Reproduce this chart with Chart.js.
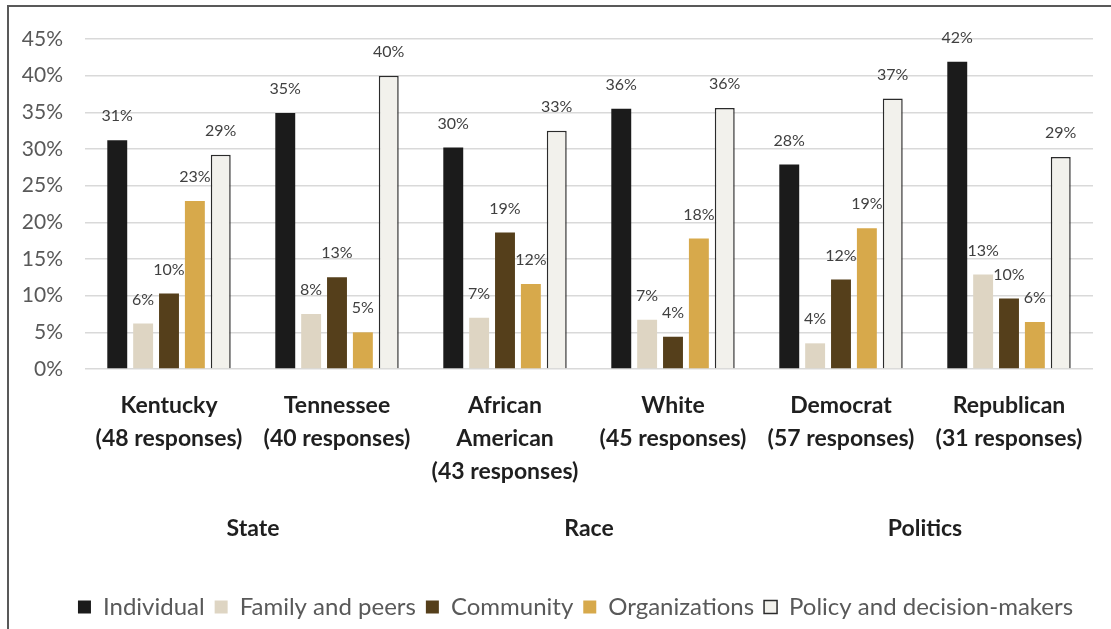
<!DOCTYPE html>
<html lang="en">
  <head>
    <meta charset="UTF-8" />
    <script src="https://cdn.jsdelivr.net/npm/chart.js@4.4.1/dist/chart.umd.min.js"></script>
    <title>Responses chart</title>
    <style>
      html, body { margin: 0; padding: 0; background: #fff; overflow: hidden; }
      #wrap { position: relative; width: 1111px; height: 629px; }
      #frame {
        position: absolute; left: 7px; top: 5px; width: 1200px; height: 700px;
        border: 2px solid #595959; pointer-events: none;
      }
    </style>
  </head>
  <body>
    <div id="wrap">
      <canvas id="myChart" width="1111" height="629"></canvas>
      <div id="frame"></div>
    </div>
    <script>
      const categories = [
        ["Kentucky", "(48 responses)"],
        ["Tennessee", "(40 responses)"],
        ["African", "American", "(43 responses)"],
        ["White", "(45 responses)"],
        ["Democrat", "(57 responses)"],
        ["Republican", "(31 responses)"],
      ];
      const groups = ["State", "Race", "Politics"];
      const individual = [31.2, 34.9, 30.2, 35.5, 27.9, 41.9];
      const familyPeers = [6.2, 7.5, 7.0, 6.7, 3.5, 12.9];
      const community = [10.3, 12.5, 18.6, 4.4, 12.2, 9.6];
      const organizations = [22.9, 5.0, 11.6, 17.8, 19.2, 6.4];
      const policyMakers = [29.2, 40.0, 32.5, 35.6, 36.9, 28.9];

      const FONT = "Lato, 'Open Sans', sans-serif";

      // draw the % value above each bar
      const valueLabels = {
        id: "valueLabels",
        afterDatasetsDraw(chart) {
          const ctx = chart.ctx;
          ctx.save();
          ctx.font = "16px " + FONT;
          ctx.fillStyle = "#404040";
          ctx.textAlign = "center";
          ctx.textBaseline = "middle";
          chart.data.datasets.forEach((ds, i) => {
            chart.getDatasetMeta(i).data.forEach((bar, j) => {
              ctx.fillText(Math.round(ds.data[j]) + "%", bar.x, bar.y - 24);
            });
          });
          ctx.restore();
        },
      };

      // legend in the original sits a bit right of the canvas centre
      const legendShift = {
        id: "legendShift",
        afterLayout(chart) {
          chart.legend.left += 29;
          chart.legend.right += 29;
        },
      };

      const ctx = document.getElementById("myChart").getContext("2d");
      const myChart = new Chart(ctx, {
        type: "bar",
        data: {
          labels: categories,
          datasets: [
            { label: "Individual", data: individual, backgroundColor: "#1b1b1b" },
            { label: "Family and peers", data: familyPeers, backgroundColor: "#ded5c3" },
            { label: "Community", data: community, backgroundColor: "#553f1b" },
            { label: "Organizations", data: organizations, backgroundColor: "#d7a94b" },
            {
              label: "Policy and decision-makers",
              data: policyMakers,
              backgroundColor: "#f2f1ec",
              borderColor: "#2b2b2b",
              borderWidth: 1.5,
            },
          ],
        },
        options: {
          responsive: false,
          animation: false,
          categoryPercentage: 0.77,
          barPercentage: 0.77,
          layout: { padding: { top: 39, right: 18, left: 0, bottom: 0 } },
          plugins: {
            tooltip: { enabled: false },
            legend: {
              position: "bottom",
              labels: {
                boxWidth: 13,
                boxHeight: 13,
                padding: 10,
                color: "#595959",
                font: { family: FONT, size: 24 },
              },
            },
          },
          scales: {
            y: {
              min: 0,
              max: 45,
              ticks: {
                stepSize: 5,
                padding: 22,
                color: "#595959",
                font: { family: FONT, size: 21 },
                callback: (v) => v + "%",
              },
              grid: { color: "#d9d9d9", lineWidth: 1.5, drawTicks: false },
              border: { display: false },
              afterFit: (s) => { s.width = 85; },
            },
            x: {
              grid: { display: false, drawTicks: false },
              border: { display: false },
              ticks: {
                padding: 20,
                color: "#1f1f1f",
                maxRotation: 0,
                autoSkip: false,
                font: { family: FONT, size: 23, weight: "bold", lineHeight: "33px" },
              },
              afterFit: (s) => { s.height = 126; },
            },
            x2: {
              type: "category",
              position: "bottom",
              labels: groups,
              offset: true,
              grid: { display: false, drawTicks: false },
              border: { display: false },
              ticks: {
                padding: 20,
                color: "#1f1f1f",
                font: { family: FONT, size: 23, weight: "bold" },
              },
              afterFit: (s) => { s.height = 90; },
            },
          },
        },
        plugins: [valueLabels, legendShift],
      });
    </script>
  </body>
</html>
